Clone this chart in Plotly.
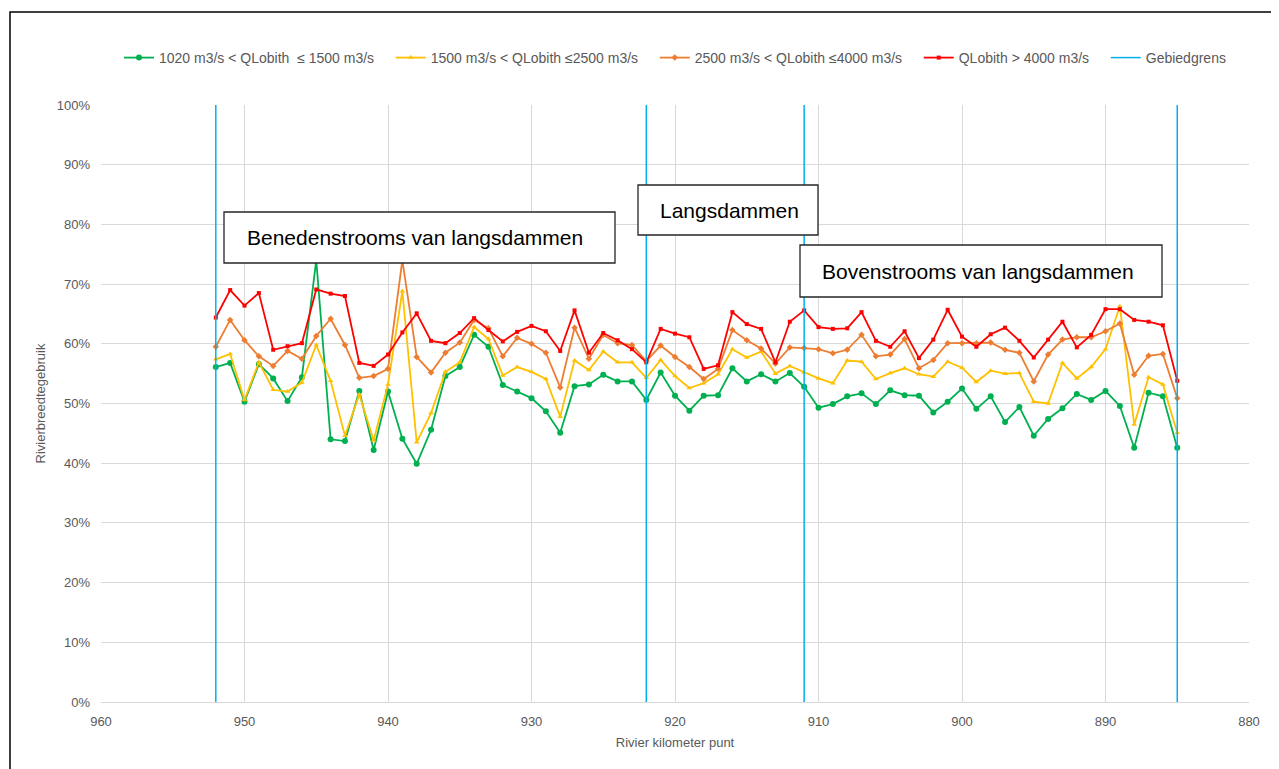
import plotly.graph_objects as go

# rivierkilometers, stroomafwaarts gezien van 952 naar 885
km = list(range(952, 884, -1))

q_1020_1500 = [56.1, 56.8, 50.3, 56.6, 54.2, 50.4, 54.4, 74.0, 44.0, 43.7,
               52.1, 42.2, 52.0, 44.1, 39.9, 45.6, 54.6, 56.1, 61.5, 59.5,
               53.1, 52.0, 50.9, 48.7, 45.1, 52.9, 53.2, 54.8, 53.7, 53.7,
               50.6, 55.2, 51.3, 48.8, 51.3, 51.4, 55.9, 53.7, 54.9, 53.7,
               55.1, 52.8, 49.3, 49.9, 51.2, 51.7, 49.9, 52.2, 51.4, 51.3,
               48.5, 50.3, 52.5, 49.1, 51.2, 46.9, 49.4, 44.6, 47.4, 49.2,
               51.6, 50.6, 52.1, 49.6, 42.6, 51.8, 51.2, 42.6]

q_1500_2500 = [57.4, 58.3, 50.6, 56.9, 52.3, 52.0, 53.5, 59.8, 53.8, 44.6,
               51.5, 43.8, 53.2, 68.8, 43.5, 48.4, 55.3, 56.9, 62.8, 60.8,
               54.7, 56.1, 55.3, 54.1, 47.8, 57.2, 55.6, 58.7, 56.9, 56.9,
               54.3, 57.3, 54.6, 52.6, 53.4, 54.9, 59.1, 57.7, 58.7, 55.0,
               56.3, 55.2, 54.2, 53.4, 57.2, 57.0, 54.1, 55.1, 55.9, 54.9,
               54.5, 57.0, 56.0, 53.6, 55.5, 55.0, 55.1, 50.3, 50.0, 56.8,
               54.2, 56.1, 59.1, 66.3, 46.5, 54.4, 53.2, 45.1]

q_2500_4000 = [59.5, 64.0, 60.6, 57.9, 56.3, 58.8, 57.5, 61.3, 64.2, 59.8,
               54.3, 54.6, 55.8, 74.0, 57.8, 55.2, 58.5, 60.2, 64.0, 62.6,
               57.9, 61.0, 60.0, 58.5, 52.7, 62.7, 57.5, 61.5, 60.1, 59.8,
               57.1, 59.7, 57.8, 56.1, 54.1, 55.8, 62.3, 60.6, 59.2, 56.7,
               59.4, 59.3, 59.1, 58.4, 59.0, 61.5, 57.9, 58.2, 60.8, 55.9,
               57.3, 60.1, 60.1, 60.1, 60.2, 59.0, 58.5, 53.7, 58.2, 60.7,
               61.1, 61.1, 62.1, 63.4, 54.8, 58.0, 58.3, 50.9]

q_4000 = [64.4, 69.0, 66.4, 68.5, 59.0, 59.6, 60.1, 69.1, 68.4, 68.0,
          56.8, 56.3, 58.2, 61.9, 65.1, 60.5, 60.1, 61.8, 64.3, 62.3,
          60.4, 62.0, 63.0, 62.1, 58.8, 65.6, 58.5, 61.8, 60.6, 59.1,
          56.9, 62.5, 61.7, 61.1, 55.8, 56.4, 65.3, 63.3, 62.5, 56.9,
          63.7, 65.6, 62.8, 62.5, 62.6, 65.3, 60.5, 59.5, 62.1, 57.6,
          60.7, 65.7, 61.2, 59.5, 61.6, 62.7, 60.5, 57.7, 60.7, 63.7,
          59.4, 61.5, 65.8, 65.8, 64.0, 63.7, 63.1, 53.8]

gebiedgrens_km = [952, 922, 911, 885]

for s in (q_1020_1500, q_1500_2500, q_2500_4000, q_4000):
    assert len(s) == len(km)

# de pagina heeft 8px body-marge; figuur daarom 8px kleiner
OFF = 8
W, H = 1279 - OFF, 769 - OFF
# plotvlak in schermpixels
PL, PR, PT, PB = 101, 1249, 105, 702


def px(x):
    return (x - PL) / (PR - PL)


def py(y):
    return (PB - y) / (PB - PT)


FONT = "Liberation Sans, Arial, sans-serif"
GREY = "#595959"
NB = "\u00a0" * 3

fig = go.Figure()

series = [
    ("1020 m3/s < QLobith  ≤ 1500 m3/s" + NB, q_1020_1500, "#00B050", "circle", 6),
    ("1500 m3/s < QLobith ≤2500 m3/s" + NB, q_1500_2500, "#FFC000", "triangle-up", 5),
    ("2500 m3/s < QLobith ≤4000 m3/s" + NB, q_2500_4000, "#ED7D31", "diamond", 5),
    ("QLobith > 4000 m3/s" + NB, q_4000, "#FF0000", "square", 4),
]
for name, vals, color, symbol, size in series:
    fig.add_trace(go.Scatter(
        x=km, y=vals, name=name, mode="lines+markers",
        line=dict(color=color, width=1.8),
        marker=dict(color=color, symbol=symbol, size=size),
    ))

# verticale lijnen voor de gebiedsgrenzen
gx, gy = [], []
for k in gebiedgrens_km:
    gx += [k, k, None]
    gy += [0, 100, None]
fig.add_trace(go.Scatter(
    x=gx, y=gy, name="Gebiedgrens", mode="lines",
    line=dict(color="#00B0F0", width=1.5),
))

# tekstvakken
boxes = [
    ("Benedenstrooms van langsdammen", 224, 212, 615, 263, 245),
    ("Langsdammen", 638, 185, 818, 235, 658),
    ("Bovenstrooms van langsdammen", 800, 245, 1162, 297, 820),
]
shapes = []
annotations = []
for text, x0, y0, x1, y1, tx in boxes:
    shapes.append(dict(
        type="rect", xref="paper", yref="paper",
        x0=px(x0), x1=px(x1), y0=py(y1), y1=py(y0),
        line=dict(color="#262626", width=1.3), fillcolor="white",
        layer="above",
    ))
    annotations.append(dict(
        text=text, xref="paper", yref="paper",
        x=px(tx), y=py((y0 + y1) / 2), xanchor="left", yanchor="middle",
        showarrow=False, font=dict(family=FONT, size=21, color="black"),
    ))

# kader om de hele grafiek
shapes.append(dict(
    type="rect", xref="paper", yref="paper",
    x0=px(10), x1=px(1275), y0=py(780), y1=py(12),
    line=dict(color="black", width=1.5), layer="below",
))

fig.update_layout(
    width=W, height=H,
    margin=dict(l=PL - OFF, r=W - (PR - OFF), t=PT - OFF, b=H - (PB - OFF)),
    paper_bgcolor="white", plot_bgcolor="white",
    font=dict(family=FONT, size=13, color=GREY),
    legend=dict(
        orientation="h", x=0.5, xanchor="center", y=py(58), yanchor="middle",
        font=dict(size=14, color=GREY), itemwidth=30,
    ),
    shapes=shapes,
    annotations=annotations,
)

fig.update_xaxes(
    range=[960, 880], tickvals=[960, 950, 940, 930, 920, 910, 900, 890, 880],
    showgrid=True, gridcolor="#D9D9D9", gridwidth=1,
    showline=True, linecolor="#D9D9D9", zeroline=False, ticks="",
    tickfont=dict(size=13, color=GREY), ticklabelstandoff=7,
    title=dict(text="Rivier kilometer punt", font=dict(size=13, color=GREY), standoff=10),
)
fig.update_yaxes(
    range=[0, 100], dtick=10, ticksuffix="%",
    showgrid=True, gridcolor="#D9D9D9", gridwidth=1,
    showline=False, zeroline=False, ticks="",
    tickfont=dict(size=13, color=GREY), ticklabelstandoff=10,
    title=dict(text="Rivierbreedtegebruik", font=dict(size=13, color=GREY), standoff=8),
)

fig.write_html("out.html")
